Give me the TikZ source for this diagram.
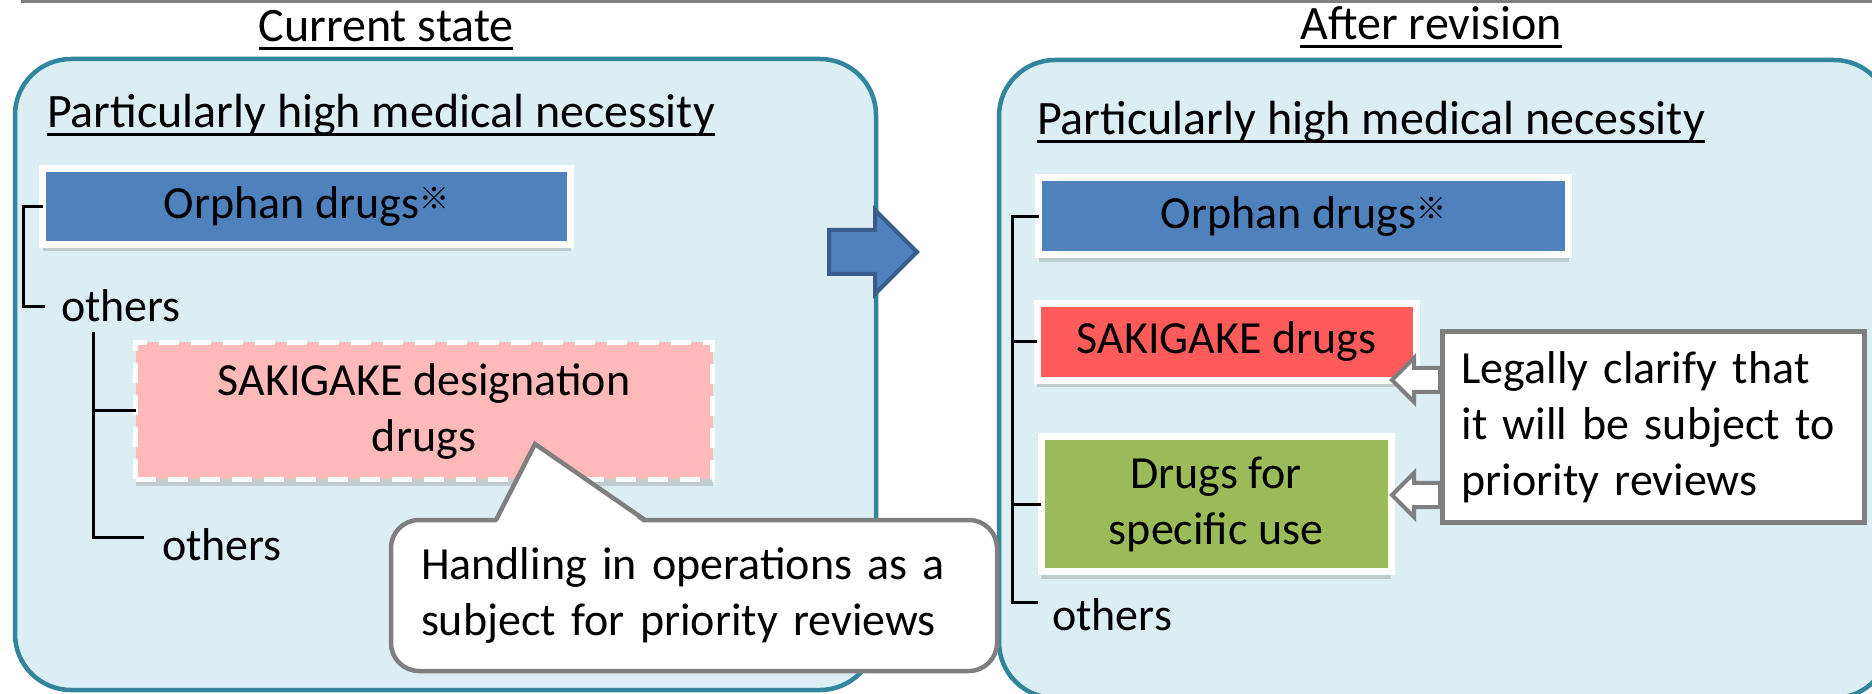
\documentclass[tikz,border=0pt]{standalone}
\usepackage{fontspec}
\setmainfont{Carlito}
\newfontfamily\cjk{Noto Sans CJK SC}
\usetikzlibrary{shapes.arrows,shadows}
\definecolor{panelfill}{HTML}{DBEEF4}
\definecolor{paneledge}{HTML}{31859C}
\definecolor{orphblue}{HTML}{4F81BD}
\definecolor{arrowedge}{HTML}{385D8A}
\definecolor{sakired}{HTML}{FF5B5B}
\definecolor{sakipink}{HTML}{FFB9B9}
\definecolor{usegreen}{HTML}{9BBB59}
\definecolor{edgegray}{HTML}{7F7F7F}
\tikzset{
    panel/.style={draw=paneledge, line width=2.25pt, fill=panelfill, rounded corners=28pt},
    drugbox/.style={draw=white, line width=3.5pt, outer sep=0pt, inner sep=0pt, align=center,
        drop shadow={shadow xshift=0pt, shadow yshift=-3.5pt, opacity=0.3}},
    txt/.style={inner sep=0pt, outer sep=0pt},
    head/.style={txt, font=\fontsize{24}{28}\selectfont},
    brk/.style={line width=1.5pt},
    uline/.style={line width=1.4pt},
    hollow/.style={single arrow, draw=edgegray, fill=white, line width=2pt, inner xsep=0pt, inner ysep=5pt,
        outer sep=0pt, minimum height=24pt, single arrow head extend=5pt, shape border rotate=180},
}
\newcommand{\refmark}{\raisebox{4.5pt}{\fontsize{15}{15}\selectfont\cjk ※}}

\begin{document}
\begin{tikzpicture}[x=0.5pt, y=-0.5pt, font=\fontsize{23}{28}\selectfont]
    \useasboundingbox (0,0) rectangle (1872,694);
    \draw[edgegray, line width=2pt] (21,1.5) -- (1880,1.5);
    \draw[panel] (15,59) rectangle (876,690);
    \draw[panel] (999,60) rectangle (1890,698);
    % headings
    \node[head, anchor=base] (cur) at (386,42) {Current state};
    \node[head, anchor=base] (aft) at (1431,40) {After revision};
    \node[head, anchor=base west] (phl) at (47,128) {Particularly high medical necessity};
    \node[head, anchor=base west] (phr) at (1037,135) {Particularly high medical necessity};
    \foreach \n in {cur,aft,phl,phr}
        \draw[uline] ([yshift=-3.3pt]\n.base west) -- ([yshift=-3.3pt]\n.base east);
    % current state
    \node[drugbox, fill=orphblue, minimum width=264pt, minimum height=38pt] (orph1) at (306.5,206.5) {Orphan drugs\refmark};
    \node[txt, anchor=base west] (oth1) at (61,322) {others};
    \node[drugbox, fill=sakipink, line width=2.5pt, dash pattern=on 10pt off 6pt, minimum width=288.5pt, minimum height=68.5pt] (sakd) at (424,411) {SAKIGAKE designation\\drugs};
    \node[txt, anchor=base west] (oth2) at (162,560) {others};
    \draw[brk] (orph1.west) -- ++(-19.5,0) |- ([xshift=-8pt]oth1.west);
    \coordinate (br2) at (93,332);
    \draw[brk] (br2) |- ([shift={(-9pt,3.5pt)}]oth2.west);
    \draw[brk] (sakd.west) -- (sakd.west -| br2);
    \node[single arrow, fill=orphblue, draw=arrowedge, line width=2pt, inner xsep=0pt, inner ysep=10pt, outer sep=0pt,
        minimum height=44pt, single arrow head extend=10pt, anchor=tail] (go) at (829,252) {};
    % after revision
    \node[drugbox, fill=orphblue, minimum width=265pt, minimum height=38.5pt] (orph2) at (1303.5,216.5) {Orphan drugs\refmark};
    \node[drugbox, fill=sakired, minimum width=189.5pt, minimum height=38.5pt] (sak) at (1226.5,341.7) {SAKIGAKE drugs};
    \node[drugbox, fill=usegreen, minimum width=175pt, minimum height=67.5pt] (use) at (1216,504) {Drugs for\\specific use};
    \node[txt, anchor=base west] (oth3) at (1052,630) {others};
    \draw[brk] (orph2.west) -- ++(-26.5,0) coordinate (rb) |- ([shift={(-7pt,6pt)}]oth3.west);
    \foreach \b in {sak,use}
        \draw[brk] (\b.west) -- (\b.west -| rb);
    \node[hollow, anchor=tip] (ha1) at (1392,380) {};
    \node[hollow, anchor=tip] (ha2) at (1392,495) {};
    \node[txt, draw=edgegray, line width=2.5pt, fill=white, minimum width=211pt, minimum height=95.5pt,
        text width=192pt, inner xsep=9.5pt, align=left] (legal) at (1653.5,427)
        {Legally clarify that\\it will be subject to\\priority reviews};
    % callout
    \node[txt, draw=edgegray, line width=2.25pt, fill=white, rounded corners=14pt, minimum width=303pt, minimum height=75.5pt,
        text width=273pt, inner xsep=15pt, align=left] (hand) at (694,595.5)
        {Handling in operations as a\\subject for priority reviews};
    \coordinate (tip) at (535,444);
    \fill[white] (496,524) -- (tip) -- (645,524) -- cycle;
    \draw[edgegray, line width=2.25pt] (496,520) -- (tip) -- (645,520);
\end{tikzpicture}
\end{document}
